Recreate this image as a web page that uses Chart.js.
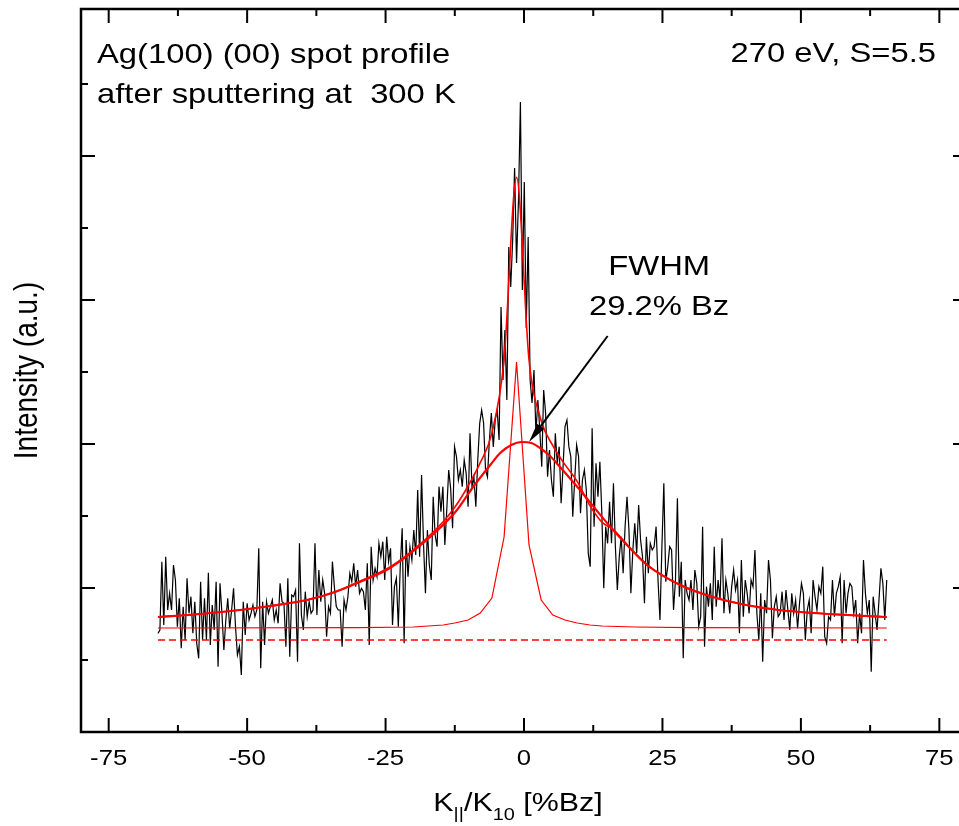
<!DOCTYPE html>
<html>
<head>
<meta charset="utf-8">
<title>Ag(100) (00) spot profile</title>
<script src="https://cdn.jsdelivr.net/npm/chart.js@4.4.1/dist/chart.umd.min.js"></script>
<style>
  html, body { margin: 0; padding: 0; background: #fff; }
  canvas { display: block; }
</style>
</head>
<body>
<canvas id="profile" width="959" height="826"></canvas>
<script>
// measured (00) spot profile, K|| from kStart to kEnd [%Bz] in equal steps, intensity in counts (a.u.)
const kStart = -66.1
const kEnd = 65.5
const counts = [
	296,306,511,321,526,366,416,366,501,456,
	316,401,251,376,276,461,356,406,296,391,
	266,221,451,276,401,276,478,261,381,306,
	451,196,446,356,246,336,401,311,366,431,
	316,231,256,171,391,291,386,336,356,381,
	346,366,551,191,391,261,391,356,376,396,
	336,366,326,446,391,386,256,461,226,411,
	406,426,211,566,351,306,421,346,391,
	356,366,566,351,486,391,456,416,286,376,
	356,511,436,376,366,366,256,396,366,406,
	476,451,506,436,486,416,431,421,366,506,
	261,556,456,491,466,566,526,571,456,
	586,511,551,321,436,461,316,496,611,266,
	576,466,556,516,606,531,726,526,771,566,
	416,606,501,456,706,591,556,736,661,736,
	561,666,786,731,611,856,826,756,786,736,
	816,776,676,896,736,766,676,816,926,966,
	//central spike
	927,786,765,876,957,855,936,966,876,1275,
	1056,1206,996,1455,1335,1476,1692,1407,1596,1890,
	1326,1650,1212,1485,1056,987,1086,897,996,
	//right side
	906,796,1026,956,766,846,756,706,896,
	806,856,686,796,916,936,856,826,
	646,756,861,826,656,756,786,726,
	536,496,911,616,806,706,811,656,431,
	616,566,691,566,746,556,426,526,586,
	476,616,706,606,416,546,626,536,681,
	576,526,386,586,476,566,546,556,
	616,456,336,556,746,451,496,556,
	546,366,456,701,406,511,221,456,416,
	396,456,366,486,446,316,346,616,
	256,436,376,446,336,556,376,456,396,
	581,356,456,416,356,436,486,426,
	456,296,516,346,456,416,356,456,436,
	546,356,276,416,211,396,356,516,456,
	281,376,406,346,356,421,336,426,
	366,306,416,356,396,311,386,446,416,
	276,366,396,296,456,406,366,436,416,
	496,286,266,346,336,456,346,416,
	436,466,266,456,356,416,446,436,356,
	396,266,356,296,516,416,356,396,181,
	406,356,306,396,491,446,336,456
]

// broad (diffuse) Lorentzian fit
const broadK = [-66.1,-58.5,-51.3,-45.8,-39.2,-34.1,-30.1,-24.2,-18.2,-15.2,-12.1,-9.2,-6.1,-4.3,-2.3,-0.4,
	1.3,2.9,4.7,6.5,10.1,13.2,16.1,19.1,22.2,28.2,34.1,40.1,46.0,52.2,58.3,65.5]
const broadFit = [345,354,366,378,396,420,447,492,567,612,666,735,801,837,861,870,
	867,852,828,795,726,663,606,552,501,441,405,381,366,357,351,345]

// narrow central peak
const narrowK = [-66.1,-30,-20,-14.6,-12.5,-10.1,-7.9,-5.8,-3.6,-1.35,0.9,3.1,5.2,7.4,9.6,11.9,14.1,20,30,65.5]
const narrowFit = [312,313,315,321,327,336,357,402,585,1110,561,396,351,336,327,321,318,315,313,312]

// total fit
const sumK = [-66.1,-58.5,-51.3,-45.8,-39.2,-34.1,-30.1,-24.2,-18.2,-14.6,-12.5,-10.1,-7.9,-5.8,-3.6,-1.35,
	0.9,3.1,5.2,7.4,9.6,11.9,14.1,16.1,19.1,22.2,28.2,34.1,40.1,46.0,52.2,58.3,65.5]
const sumFit = [345,354,366,378,396,421,449,495,572,631,674,738,808,897,1118,1664,
	1117,934,859,802,752,679,629,608,553,502,441,405,381,366,357,351,345]

// background level
const baseK = [-66.1, 65.5]
const baseFit = [276, 276]

// axes (the frame runs to 80 %Bz, the picture is cut a little before that)
const xMin = -80, xMax = 78.55, xFrameEnd = 80
const yMin = 0, yMax = 2169
const xMajorTicks = [-75, -50, -25, 0, 25, 50, 75]
const xTickLabels = ['-75', '-50', '-25', '0', '25', '50', '75']
const xMinorTicks = [-62.5, -37.5, -12.5, 12.5, 37.5, 62.5]
const yMajorTicks = [432, 864, 1296, 1728]
const yMinorTicks = [216, 648, 1080, 1512, 1944]

// annotation (data coordinates)
const fwhmText = ['FWHM', '29.2% Bz']
const fwhmK = 24.4
const fwhmCounts = [1371, 1251]
const arrowFrom = [15.1, 1188]
const arrowTo = [0.9, 870]

const TEXT_STRETCH = 1.17
const FONT = '"Liberation Sans", Arial, Helvetica, sans-serif'

function drawText(ctx, text, x, y, size, align) {
	ctx.save()
	ctx.font = `${size}px ${FONT}`
	ctx.translate(x, y)
	ctx.scale(TEXT_STRETCH, 1)
	ctx.textAlign = align || 'left'
	ctx.textBaseline = 'alphabetic'
	ctx.fillStyle = '#000'
	ctx.fillText(text, 0, 0)
	ctx.restore()
}

function seg(ctx, x0, y0, x1, y1) {
	ctx.beginPath()
	ctx.moveTo(x0, y0)
	ctx.lineTo(x1, y1)
	ctx.stroke()
}

const framePlugin = {
	id: 'frame',
	afterDatasetsDraw(chart) {
		const { ctx, chartArea: a, scales: { x, y } } = chart
		const right = x.getPixelForValue(xFrameEnd)
		ctx.save()
		ctx.strokeStyle = '#000'
		ctx.lineWidth = 2.5
		ctx.strokeRect(a.left, a.top, right - a.left, a.bottom - a.top)

		//inward ticks on all four sides
		ctx.lineWidth = 2
		const tick = (list, len) => {
			list.forEach(v => {
				const px = x.getPixelForValue(v)
				seg(ctx, px, a.bottom, px, a.bottom - len)
				seg(ctx, px, a.top, px, a.top + len)
			})
		}
		tick(xMajorTicks, 14)
		tick(xMinorTicks, 7)
		const ytick = (list, len) => {
			list.forEach(v => {
				const py = y.getPixelForValue(v)
				seg(ctx, a.left, py, a.left + len, py)
				seg(ctx, right, py, right - len, py)
			})
		}
		ytick(yMajorTicks, 14)
		ytick(yMinorTicks, 7)

		//tick labels
		xMajorTicks.forEach((v, i) => drawText(ctx, xTickLabels[i], x.getPixelForValue(v), a.bottom + 33, 22, 'center'))

		//axis titles
		ctx.save()
		ctx.translate(37, (a.top + a.bottom) / 2)
		ctx.scale(TEXT_STRETCH, 1)
		ctx.rotate(-Math.PI / 2)
		ctx.font = `28px ${FONT}`
		ctx.textAlign = 'center'
		ctx.fillStyle = '#000'
		ctx.fillText('Intensity (a.u.)', 0, 0)
		ctx.restore()

		const parts = [['K', 26, 0], ['||', 17, 8], ['/K', 26, 0], ['10', 17, 9], [' [%Bz]', 26, 0]]
		let total = 0
		parts.forEach(p => { ctx.font = `${p[1]}px ${FONT}`; p.push(ctx.measureText(p[0]).width * TEXT_STRETCH); total += p[3] })
		let cx = (a.left + right) / 2 - 6 - total / 2
		parts.forEach(p => { drawText(ctx, p[0], cx, 811 + p[2], p[1], 'left'); cx += p[3] })

		//corner texts
		drawText(ctx, 'Ag(100) (00) spot profile', a.left + 16, a.top + 54, 28, 'left')
		drawText(ctx, 'after sputtering at  300 K', a.left + 16, a.top + 94, 28, 'left')
		drawText(ctx, '270 eV, S=5.5', right - 31, a.top + 53, 28, 'right')

		//FWHM label and arrow
		drawText(ctx, fwhmText[0], x.getPixelForValue(fwhmK), y.getPixelForValue(fwhmCounts[0]), 28, 'center')
		drawText(ctx, fwhmText[1], x.getPixelForValue(fwhmK), y.getPixelForValue(fwhmCounts[1]), 28, 'center')
		const x0 = x.getPixelForValue(arrowFrom[0]), y0 = y.getPixelForValue(arrowFrom[1])
		const x1 = x.getPixelForValue(arrowTo[0]), y1 = y.getPixelForValue(arrowTo[1])
		const ang = Math.atan2(y1 - y0, x1 - x0)
		const headLen = 20, headW = 0.22
		ctx.lineWidth = 2
		seg(ctx, x0, y0, x1 - Math.cos(ang) * headLen * 0.8, y1 - Math.sin(ang) * headLen * 0.8)
		ctx.beginPath()
		ctx.moveTo(x1, y1)
		ctx.lineTo(x1 - headLen * Math.cos(ang - headW), y1 - headLen * Math.sin(ang - headW))
		ctx.lineTo(x1 - headLen * Math.cos(ang + headW), y1 - headLen * Math.sin(ang + headW))
		ctx.closePath()
		ctx.fillStyle = '#000'
		ctx.fill()
		ctx.restore()
	}
}

const step = (kEnd - kStart) / (counts.length - 1)
const pts = (ks, vs) => ks.map((k, i) => ({ x: k, y: vs[i] }))

new Chart(document.getElementById('profile'), {
	type: 'line',
	data: {
		datasets: [
			{ label: 'sum', data: pts(sumK, sumFit), borderColor: '#ff0000', borderWidth: 1.6, pointRadius: 0, cubicInterpolationMode: 'monotone', order: 1 },
			{ label: 'broad', data: pts(broadK, broadFit), borderColor: '#ff0000', borderWidth: 2.2, pointRadius: 0, cubicInterpolationMode: 'monotone', order: 1 },
			{ label: 'narrow', data: pts(narrowK, narrowFit), borderColor: '#ff0000', borderWidth: 1.2, pointRadius: 0, tension: 0, order: 1 },
			{ label: 'background', data: pts(baseK, baseFit), borderColor: '#ff0000', borderWidth: 1.5, borderDash: [7, 4], pointRadius: 0, order: 1 },
			{ label: 'profile', data: counts.map((c, i) => ({ x: kStart + i * step, y: c })), borderColor: '#000', borderWidth: 1.2, pointRadius: 0, tension: 0, order: 2 }
		]
	},
	options: {
		responsive: false,
		animation: false,
		layout: { padding: { left: 81, top: 9, right: 0, bottom: 94 } },
		scales: {
			x: { type: 'linear', min: xMin, max: xMax, display: false },
			y: { min: yMin, max: yMax, display: false }
		},
		plugins: { legend: { display: false }, tooltip: { enabled: false } }
	},
	plugins: [framePlugin]
})
</script>
</body>
</html>
